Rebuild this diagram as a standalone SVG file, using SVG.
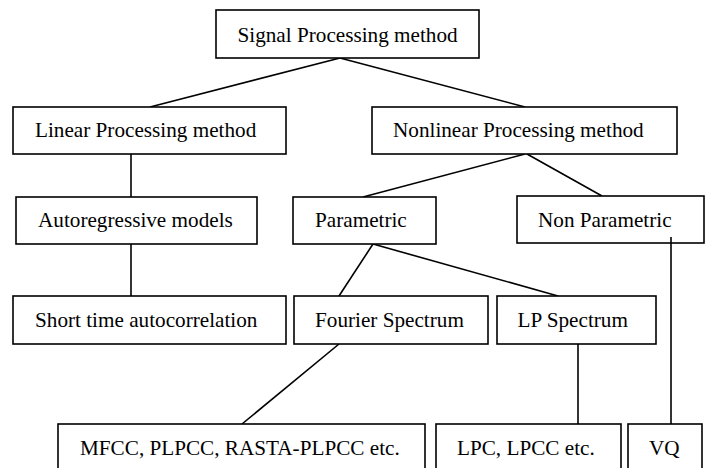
<svg xmlns="http://www.w3.org/2000/svg" width="707" height="468" viewBox="0 0 707 468">
<style>
rect{fill:#fff;stroke:#000;stroke-width:1.6}
line{stroke:#000;stroke-width:1.6}
text{font-family:"Liberation Serif","Times New Roman",serif;font-size:21.2px;fill:#000}
</style>
<rect x="0" y="0" width="707" height="468" style="stroke:none"/>
<g id="connectors">
<line x1="340" y1="58" x2="150" y2="107"/>
<line x1="340" y1="58" x2="525" y2="107"/>
<line x1="131" y1="154" x2="131" y2="197"/>
<line x1="525" y1="154" x2="363" y2="197"/>
<line x1="527" y1="154" x2="602" y2="196"/>
<line x1="131" y1="244" x2="131" y2="296"/>
<line x1="373" y1="244" x2="339" y2="296"/>
<line x1="373" y1="244" x2="558" y2="296"/>
<line x1="339" y1="344" x2="242" y2="424"/>
<line x1="578" y1="344" x2="578" y2="424"/>
</g>
<g id="n-signal"><rect x="216" y="10" width="263" height="48"/><text x="237.5" y="41.5">Signal Processing method</text></g>
<g id="n-linear"><rect x="13" y="107" width="273" height="47"/><text x="35" y="136.5">Linear Processing method</text></g>
<g id="n-nonlinear"><rect x="372" y="107" width="305" height="47"/><text x="393" y="136.5">Nonlinear Processing method</text></g>
<g id="n-auto"><rect x="16" y="197" width="241" height="47"/><text x="38" y="227">Autoregressive models</text></g>
<g id="n-param"><rect x="293" y="197" width="143" height="47"/><text x="315" y="227">Parametric</text></g>
<g id="n-nonparam"><rect x="517" y="196" width="187" height="47"/><text x="538" y="227">Non Parametric</text></g>
<g id="n-short"><rect x="13" y="296" width="273" height="48"/><text x="35" y="327">Short time autocorrelation</text></g>
<g id="n-fourier"><rect x="294" y="296" width="194" height="48"/><text x="315" y="327">Fourier Spectrum</text></g>
<g id="n-lp"><rect x="497" y="296" width="159" height="48"/><text x="517.5" y="327">LP Spectrum</text></g>
<g id="n-mfcc"><rect x="58" y="424" width="367" height="50"/><text x="80" y="455">MFCC, PLPCC, RASTA-PLPCC etc.</text></g>
<g id="n-lpc"><rect x="436" y="424" width="185" height="50"/><text x="457" y="455">LPC, LPCC etc.</text></g>
<g id="n-vq"><rect x="628" y="424" width="74" height="50"/><text x="649" y="455">VQ</text></g>
<g id="connector-vq"><line x1="671" y1="237" x2="671" y2="424"/></g>
</svg>
